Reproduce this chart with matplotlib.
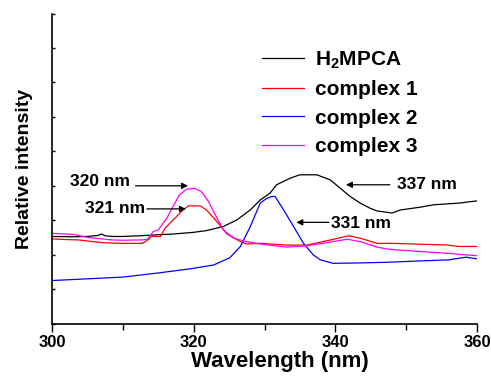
import matplotlib
matplotlib.use("Agg")
import matplotlib.pyplot as plt
import numpy as np

plt.rcParams['font.family'] = ['Liberation Sans', 'DejaVu Sans']
plt.rcParams['font.weight'] = 'bold'
plt.rcParams['mathtext.fontset'] = 'custom'
plt.rcParams['mathtext.rm'] = 'Liberation Sans:bold'
plt.rcParams['mathtext.bf'] = 'Liberation Sans:bold'
plt.rcParams['mathtext.default'] = 'bf'

# H2MPCA (black)
wl_h2 = [300, 303, 305, 306.5, 307, 307.5, 308.5, 310, 312.4, 315, 317.1, 320, 321.8,
         324.2, 326.1, 328, 329.4, 330.8, 331.7, 333.6, 335, 337.4, 339.3, 340.7,
         342.1, 343.5, 344.9, 345.9, 347, 348, 349.2, 352, 353.9, 357.6, 359, 360]
int_h2 = [2.53, 2.52, 2.53, 2.56, 2.60, 2.55, 2.53, 2.53, 2.55, 2.58, 2.60, 2.65, 2.70,
          2.82, 3.01, 3.30, 3.59, 3.79, 4.03, 4.22, 4.32, 4.32, 4.17, 3.93,
          3.69, 3.50, 3.35, 3.27, 3.24, 3.21, 3.30, 3.38, 3.45, 3.50, 3.54, 3.56]

# complex 1 (red)
wl_c1 = [300, 302, 303.7, 305, 307, 310, 312.7, 313.2, 314.1, 315.3, 316, 317.1, 318.5,
         319.3, 320.5, 321, 321.8, 323.3, 324.7, 326.6, 327.5, 329.4, 333.1, 336, 338,
         340, 341.9, 343.5, 345.9, 348, 351.3, 355.9, 357.3, 360]
int_c1 = [2.46, 2.44, 2.43, 2.40, 2.35, 2.33, 2.33, 2.38, 2.53, 2.53, 2.78, 3.01, 3.30,
          3.42, 3.42, 3.41, 3.30, 2.96, 2.60, 2.38, 2.31, 2.33, 2.28, 2.28, 2.37,
          2.46, 2.55, 2.48, 2.33, 2.33, 2.31, 2.28, 2.24, 2.24]

# complex 2 (blue)
wl_c2 = [300, 305, 310, 314.6, 319.5, 322.8, 325.1, 326.6, 328, 329.4, 330.2, 331, 331.5,
         332.7, 334.1, 335.5, 336.9, 337.9, 339.7, 343, 347.3, 352, 356, 358.5, 359, 360]
int_c2 = [1.25, 1.30, 1.35, 1.46, 1.59, 1.70, 1.91, 2.24, 2.82, 3.50, 3.62, 3.69, 3.69,
          3.30, 2.82, 2.33, 1.99, 1.85, 1.75, 1.76, 1.78, 1.82, 1.85, 1.93, 1.91, 1.88]

# complex 3 (magenta)
wl_c3 = [300, 303, 305.1, 308.4, 310, 312.7, 313.5, 314.3, 315, 316.2, 317.1, 318, 319,
         320.1, 321.1, 322.1, 323.3, 324.2, 325.6, 327.5, 329.4, 333.1, 336, 338.5,
         341.7, 343.5, 345.9, 347.5, 350, 355.9, 360]
int_c3 = [2.62, 2.59, 2.50, 2.43, 2.42, 2.43, 2.45, 2.67, 2.72, 3.06, 3.40, 3.74, 3.90,
          3.93, 3.83, 3.54, 3.06, 2.72, 2.48, 2.38, 2.31, 2.22, 2.26, 2.34,
          2.45, 2.38, 2.22, 2.16, 2.12, 2.04, 1.97]

labels = ['H$_\\mathbf{2}$MPCA', 'complex 1', 'complex 2', 'complex 3']
colors = ['black', 'red', 'blue', 'magenta']

# peak labels: text, text pos, arrow tail, arrow head
peak_text = ['320 nm', '321 nm', '337 nm', '331 nm']
text_xy = [(302.5, 4.13), (304.6, 3.33), (348.7, 4.04), (339.4, 2.92)]
tail_xy = [(311.8, 4.0), (313.4, 3.33), (347.7, 4.03), (339.1, 2.94)]
head_xy = [(319.2, 4.0), (318.9, 3.33), (341.5, 4.03), (334.5, 2.94)]

fig = plt.figure(figsize=(4.91, 3.81), dpi=100)
ax = fig.add_axes([52 / 491, 1 - 323.6 / 381, 425 / 491, 310 / 381])

ax.plot(wl_h2, int_h2, c=colors[0], lw=0.9, label=labels[0])
ax.plot(wl_c1, int_c1, c=colors[1], lw=0.9, label=labels[1])
ax.plot(wl_c2, int_c2, c=colors[2], lw=0.9, label=labels[2])
ax.plot(wl_c3, int_c3, c=colors[3], lw=0.9, label=labels[3])

# peak positions with arrows
for t, txy, a, b in zip(peak_text, text_xy, tail_xy, head_xy):
    ax.text(txy[0], txy[1], t, fontsize=12.5, fontweight='bold', ha='left', va='center')
    ax.annotate('', xy=b, xytext=a,
                arrowprops=dict(arrowstyle='-|>', color='black', lw=0.9,
                                mutation_scale=9, shrinkA=0, shrinkB=0))

ax.set_xlim(300, 360)
ax.set_ylim(0, 9)
ax.set_xticks([300, 320, 340, 360])
ax.set_xticks([310, 330, 350], minor=True)
ax.set_yticks(np.arange(0, 10, 1))
ax.set_yticklabels([])
ax.tick_params(axis='x', which='major', direction='out', length=6, width=1, labelsize=12, pad=2)
ax.tick_params(axis='x', which='minor', direction='out', length=4, width=1)
ax.tick_params(axis='y', which='major', direction='in', length=2.5, width=1)
for lab in ax.get_xticklabels():
    lab.set_fontweight('bold')
ax.spines['top'].set_visible(False)
ax.spines['right'].set_visible(False)
ax.spines['left'].set_linewidth(1.2)
ax.spines['bottom'].set_linewidth(1.2)

ax.set_xlabel('Wavelength (nm)', fontsize=16, fontweight='bold')
ax.xaxis.set_label_coords(0.536, -0.09)
ax.set_ylabel('Relative intensity', fontsize=14, fontweight='bold')
ax.yaxis.set_label_coords(-0.045, 0.5)

leg = ax.legend(loc='upper left', bbox_to_anchor=(0.475, 0.911), frameon=False,
                fontsize=15, handlelength=2.0, handletextpad=0.55, labelspacing=0.45,
                borderaxespad=0)
for txt in leg.get_texts():
    txt.set_fontweight('bold')

fig.savefig('out.png', dpi=100)
